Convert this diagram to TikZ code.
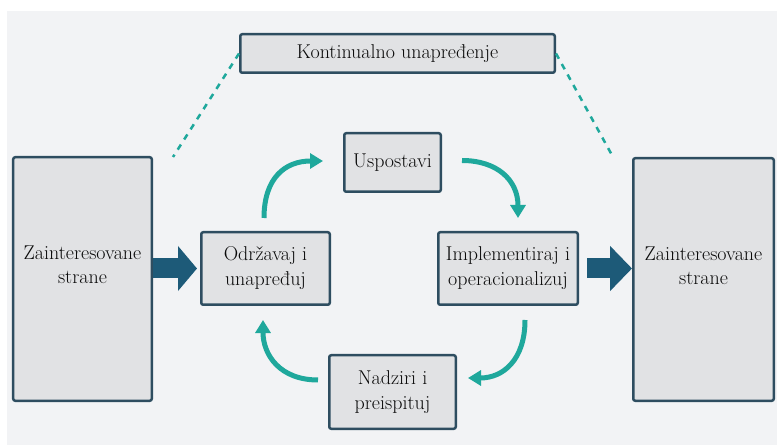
\documentclass[tikz,border=0pt]{standalone}
\usepackage{fontspec}
\usetikzlibrary{arrows.meta,calc}
\definecolor{bgcol}{HTML}{F2F3F5}
\definecolor{boxfill}{HTML}{E1E2E4}
\definecolor{boxline}{HTML}{2E4D60}
\definecolor{bigarrow}{HTML}{1D5A78}
\definecolor{cyclecol}{HTML}{1FA89C}
\definecolor{txtcol}{HTML}{0A0A0A}
\begin{document}
\begin{tikzpicture}[x=1bp,y=-1bp,
  box/.style={draw=boxline, fill=boxfill, line width=2.5bp, rounded corners=2bp,
    inner sep=0pt, align=center, text=txtcol, font=\rmfamily\fontsize{20bp}{25bp}\selectfont},
  txt/.style={align=center, text=txtcol, inner sep=0pt, font=\rmfamily\fontsize{20bp}{24bp}\selectfont},
  bigarr/.style={draw=bigarrow, line width=20bp, -{Triangle[length=19bp,width=44bp]}},
  cyc/.style={draw=cyclecol, line width=5bp, -{Triangle[length=13bp,width=15bp]}},
  dashline/.style={draw=cyclecol, line width=2.5bp, dash pattern=on 6bp off 6bp}]
\useasboundingbox (0,0) rectangle (777,445);
\fill[bgcol] (7,11) rectangle (777,445);
% boxes
\node[box, minimum width=314.5bp, minimum height=38.5bp] (T) at (397.5,53.5) {Kontinualno unapređenje};
\node[box, minimum width=96.5bp, minimum height=58.5bp] (U) at (392.5,162.5) {Uspostavi};
\node[box, minimum width=128.5bp, minimum height=72.5bp] (O) at (265.5,268.5) {Održavaj i\\unapređuj};
\node[box, minimum width=139.5bp, minimum height=72.5bp] (I) at (508,268.5) {Implementiraj i\\operacionalizuj};
\node[box, minimum width=126.5bp, minimum height=73.5bp] (N) at (392.5,392) {Nadziri i\\preispituj};
\node[box, minimum width=138.5bp, minimum height=243.5bp] (L) at (82.5,279) {};
\node[txt] (Lt) at ($(L.center)+(0,-14)$) {Zainteresovane\\strane};
\node[box, minimum width=140.5bp, minimum height=242.5bp] (R) at (703.5,279.5) {};
\node[txt] (Rt) at ($(R.center)+(0,-14)$) {Zainteresovane\\strane};
% dashed links
\coordinate (dl) at (173,157);
\coordinate (dr) at (613,157);
\draw[dashline] (T.west) -- (dl);
\draw[dashline] (T.east) -- (dr);
% big arrows (horizontal, at the height of the cycle boxes)
\draw[bigarr, shorten >=3bp] (L.east |- O.west) -- (O.west);
\draw[bigarr, shorten <=8bp, -{Triangle[length=22bp,width=44bp]}] (I.east) -- (I.east -| R.west);
% cycle arrows
\draw[cyc] ($(O.north)+(-1.5,-13)$) .. controls +(0,-40) and +(-38,0) .. ($(U.west)+(-20,-1.5)$);
\draw[cyc] ($(U.east)+(20,-2)$) .. controls +(35,0) and +(0,-38) .. ($(I.north)+(10,-13)$);
\draw[cyc] ($(I.south)+(17,14)$) .. controls +(0,40) and +(35,0) .. ($(N.east)+(11,-14)$);
\draw[cyc] ($(N.west)+(-10,-12)$) .. controls +(-38,0) and +(0,35) .. ($(O.south)+(-2.5,14)$);
\end{tikzpicture}
\end{document}
